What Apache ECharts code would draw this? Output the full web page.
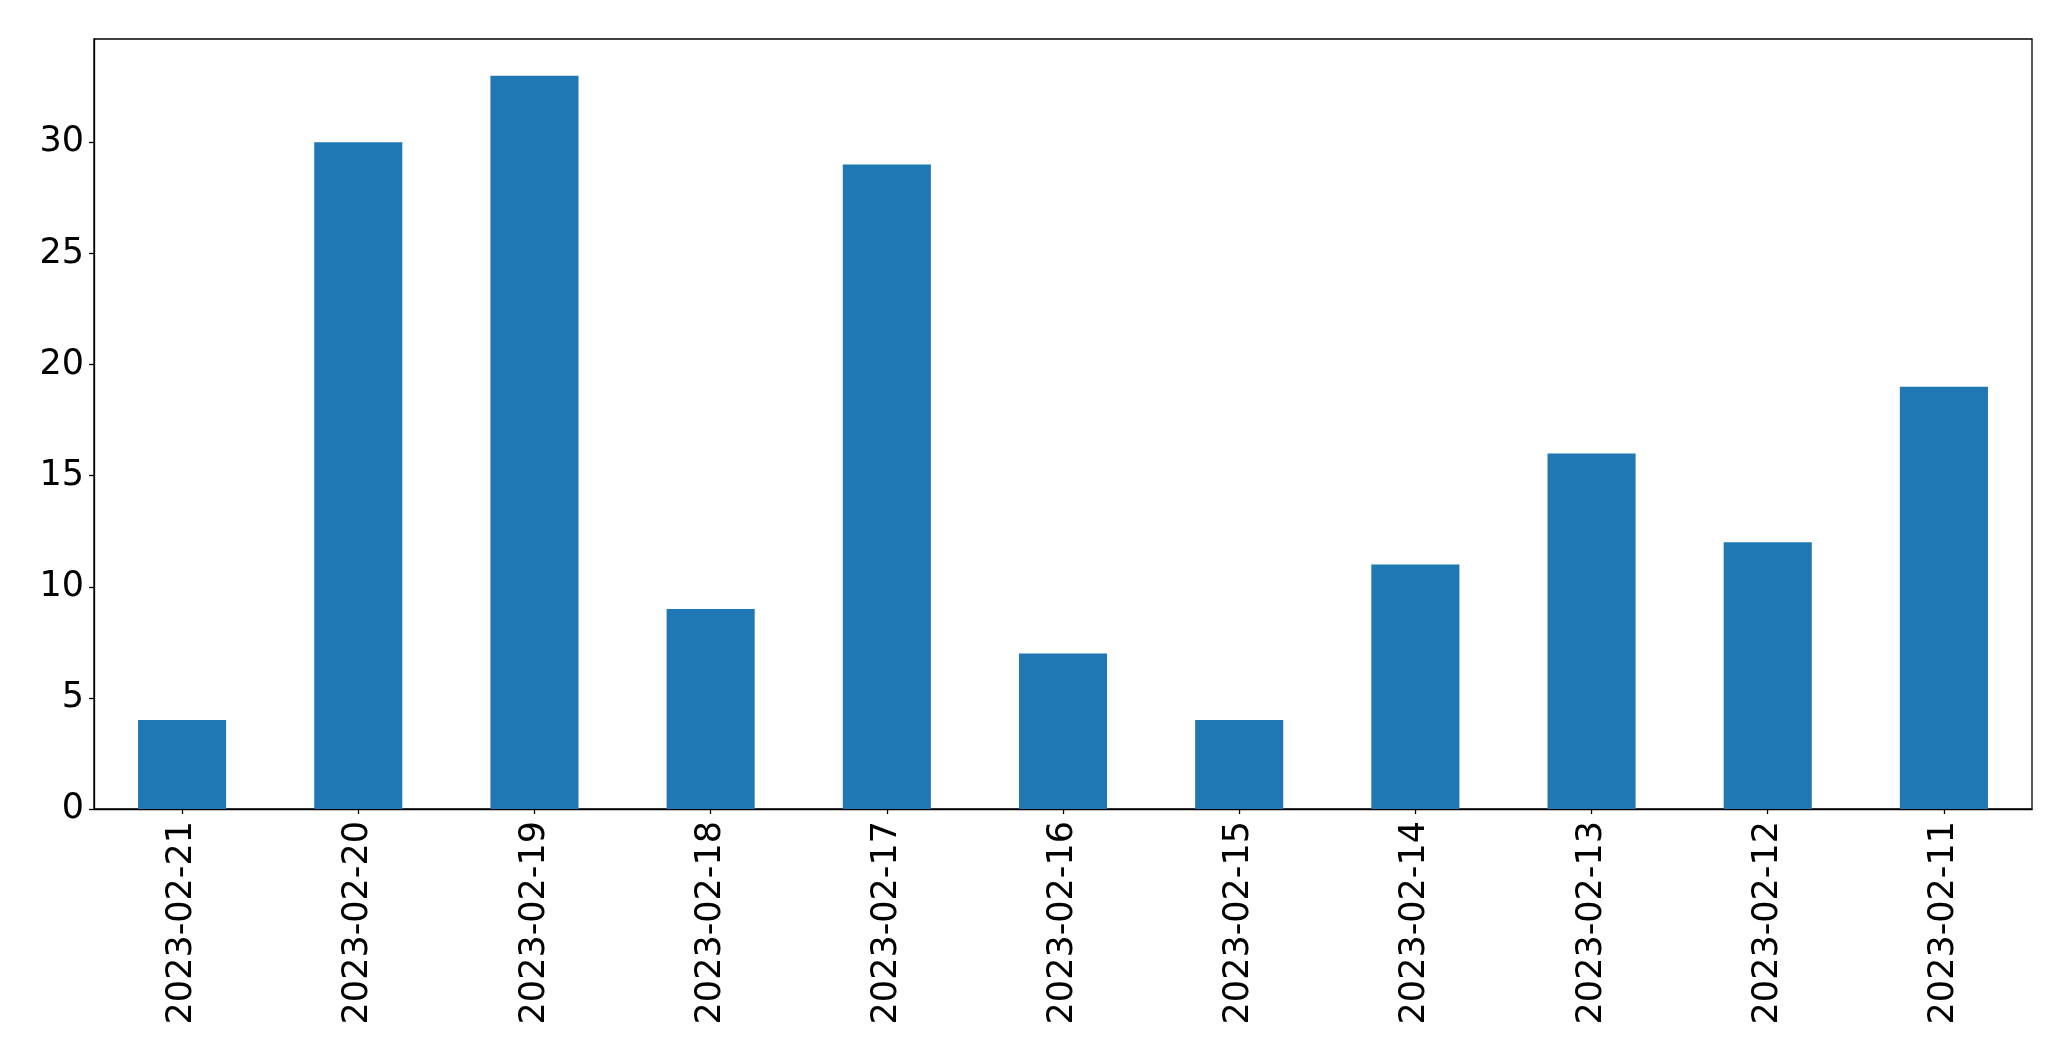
<!DOCTYPE html>
<html>
<head>
<meta charset="utf-8">
<script src="https://cdn.jsdelivr.net/npm/echarts@6/dist/echarts.min.js"></script>
<style>html,body{margin:0;padding:0;background:#fff;}#c{width:2071px;height:1061px;}</style>
</head>
<body>
<div id="c"></div>
<script>
const categories = ['2023-02-21','2023-02-20','2023-02-19','2023-02-18','2023-02-17','2023-02-16','2023-02-15','2023-02-14','2023-02-13','2023-02-12','2023-02-11'];
const values = [4, 30, 33, 9, 29, 7, 4, 11, 16, 12, 19];
const yTicks = [0, 5, 10, 15, 20, 25, 30];

const chart = echarts.init(document.getElementById('c'), null, {renderer: 'canvas'});
const font = 'DejaVu Sans';
chart.setOption({
  animation: false,
  backgroundColor: '#fff',
  grid: {left: 94, right: 39, top: 39, bottom: 252, show: true, borderColor: '#000', borderWidth: 1.3, backgroundColor: 'transparent'},
  xAxis: {
    type: 'category',
    data: categories,
    boundaryGap: true,
    axisLine: {show: true, lineStyle: {color: '#000', width: 1.3}},
    axisTick: {show: true, alignWithLabel: true, length: 5, lineStyle: {color: '#000', width: 1.3}},
    axisLabel: {rotate: 90, margin: 12, fontSize: 35, fontFamily: font, color: '#000', interval: 0},
    splitLine: {show: false}
  },
  yAxis: {
    type: 'value',
    min: 0,
    max: Math.max(...values) * 1.05,
    interval: 5,
    axisLine: {show: true, lineStyle: {color: '#000', width: 1.3}},
    axisTick: {show: true, length: 5, lineStyle: {color: '#000', width: 1.3}, customValues: yTicks},
    axisLabel: {fontSize: 35, fontFamily: font, color: '#000', margin: 10, customValues: yTicks},
    splitLine: {show: false}
  },
  series: [{
    type: 'bar',
    data: values,
    barWidth: '50%',
    itemStyle: {color: '#1f77b4'}
  }]
});
</script>
</body>
</html>
